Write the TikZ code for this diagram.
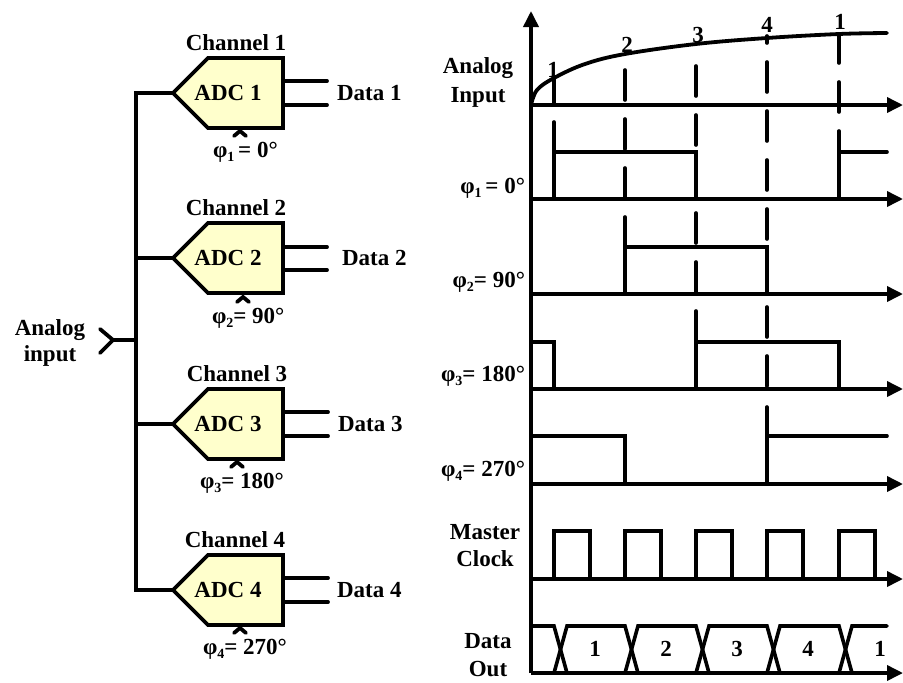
\documentclass[tikz,border=0pt]{standalone}
\usepackage{fontspec}
\setmainfont{Liberation Serif}
\usepackage{tikz}
\usetikzlibrary{shapes.symbols, arrows.meta, positioning, calc}
\definecolor{adcfill}{HTML}{FFFFCC}
\newcommand{\phasesub}[1]{\raisebox{-4pt}{\fontsize{14}{14}\selectfont #1}}
\tikzset{
  adc/.style    = {signal, signal to=west, signal pointer angle=90, draw=black,
                   line width=3.8pt, fill=adcfill, minimum width=110pt,
                   minimum height=70pt, inner sep=0pt, outer sep=0pt, line join=miter},
  lbl/.style    = {inner sep=0pt, outer sep=0pt, align=center,
                   font=\fontsize{23}{27}\selectfont\bfseries},
  wire/.style   = {line width=3.8pt, line cap=round, line join=miter},
  wave/.style   = {line width=3.6pt, line cap=round, line join=miter},
  dashline/.style = {line width=3.6pt, line cap=round, dash pattern=on 30pt off 19pt},
  axis/.style   = {line width=3.6pt, -{Triangle[length=16pt,width=15pt]}},
}
\begin{document}
\begin{tikzpicture}[x=1pt, y=-1pt]
  \useasboundingbox (0,0) rectangle (903,683);

  % converters
  \node[adc, anchor=east] (adc1) at (283,93) {};
  \node[adc, anchor=east] (adc2) at (283,258) {};
  \node[adc, anchor=east] (adc3) at (283,424) {};
  \node[adc, anchor=east] (adc4) at (283,590) {};
  \node[lbl] (name1) at ($(adc1.west)!0.5!(adc1.east)$) {ADC 1};
  \node[lbl] (name2) at ($(adc2.west)!0.5!(adc2.east)$) {ADC 2};
  \node[lbl] (name3) at ($(adc3.west)!0.5!(adc3.east)$) {ADC 3};
  \node[lbl] (name4) at ($(adc4.west)!0.5!(adc4.east)$) {ADC 4};

  \node[lbl, above=35pt of name1, xshift=8pt] (chan1) {Channel 1};
  \node[lbl, above=35pt of name2, xshift=8pt] (chan2) {Channel 2};
  \node[lbl, above=35pt of name3, xshift=9pt] (chan3) {Channel 3};
  \node[lbl, above=35pt of name4, xshift=7pt] (chan4) {Channel 4};

  \node[lbl, right=54pt of adc1] (data1) {Data 1};
  \node[lbl, right=59pt of adc2] (data2) {Data 2};
  \node[lbl, right=55pt of adc3] (data3) {Data 3};
  \node[lbl, right=54pt of adc4] (data4) {Data 4};

  \node[lbl, anchor=base west] (phase1) at (213,157) {φ\phasesub{1}\,= 0°};
  \node[lbl, anchor=base west] (phase2) at (212,323) {φ\phasesub{2}= 90°};
  \node[lbl, anchor=base west] (phase3) at (200,488) {φ\phasesub{3}= 180°};
  \node[lbl, anchor=base west] (phase4) at (203,654) {φ\phasesub{4}= 270°};

  \node[lbl] (analog) at (50,343) {Analog\\[-1pt]input};

  % input bus
  \coordinate (bustop) at (136,93);
  \coordinate (busbot) at (136,590);
  \coordinate (jack) at (113,340);
  \draw[wire] (adc1.west) -- (bustop) -- (busbot) -- (adc4.west);
  \draw[wire] (adc2.west) -- (adc2.west -| bustop);
  \draw[wire] (adc3.west) -- (adc3.west -| bustop);
  \draw[wire] (jack) -- (jack -| bustop);
  \draw[wire] ($(jack)+(-13,-11)$) -- (jack) -- ($(jack)+(-13,13)$);

  % outputs
  \coordinate (out1a) at (327,81);
  \coordinate (out1b) at (327,105);
  \coordinate (out2a) at (327,247);
  \coordinate (out2b) at (327,270);
  \coordinate (out3a) at (328,412);
  \coordinate (out3b) at (328,436);
  \coordinate (out4a) at (328,578);
  \coordinate (out4b) at (328,602);
  \foreach \n/\o in {1/out1a,1/out1b,2/out2a,2/out2b,3/out3a,3/out3b,4/out4a,4/out4b}
    \draw[wire] (\o -| adc\n.east) -- (\o);

  % clock inputs
  \coordinate (clk1) at (240,131);
  \coordinate (clk2) at (243,297);
  \coordinate (clk3) at (237,462);
  \coordinate (clk4) at (240,628);
  \foreach \c in {clk1,clk2,clk3,clk4}
    \draw[wire] ($(\c)+(-6,5)$) -- (\c) -- ($(\c)+(6,5)$);

  % axes
  \draw[axis] (531,673) -- (531,11);
  \foreach \y in {105,199,294,389,484,579,673}
    \draw[axis] (531,\y) -- (903,\y);

  % analog input and sampling instants
  \draw[wire] plot[smooth, tension=0.6] coordinates {(531,105) (537,90) (554,78) (585,64) (625,54)
    (696,44) (767,38) (839,34) (887,33)};
  \draw[wave] (554,78) -- (554,105);
  \draw[dashline] (625,70) -- (625,199);
  \draw[dashline] (696,66) -- (696,342);
  \draw[dashline, dash phase=23pt] (767,36) -- (767,389);
  \draw[dashline, dash phase=2pt] (839,35) -- (839,132);

  \node[lbl] (tick1) at (553,70) {1};
  \node[lbl] (tick2) at (627,45) {2};
  \node[lbl] (tick3) at (698,35) {3};
  \node[lbl] (tick4) at (767,25) {4};
  \node[lbl] (tick5) at (840,22) {1};

  % phase clocks
  \draw[wave] (554,122) -- (554,199);
  \draw[wave] (554,152) -- (696,152) -- (696,199);
  \draw[wave] (839,132) -- (839,199);
  \draw[wave] (839,152) -- (887,152);
  \draw[wave] (625,217) -- (625,294);
  \draw[wave] (625,247) -- (767,247) -- (767,294);
  \draw[wave] (531,342) -- (554,342) -- (554,389);
  \draw[wave] (696,389) -- (696,342) -- (839,342) -- (839,389);
  \draw[wave] (531,436) -- (625,436) -- (625,484);
  \draw[wave] (767,407) -- (767,484);
  \draw[wave] (767,436) -- (887,436);

  % master clock
  \foreach \x in {554,625,696,767,839}
    \draw[wave] (\x,579) -- (\x,531) -- (\x+36,531) -- (\x+36,579);

  % data out
  \draw[wave] (531,626) -- (554,626) -- (567,673);
  \foreach \x/\w in {554/625,625/696,696/767,767/839}
    \draw[wave] (\x,673) -- (\x+13,626) -- (\w,626) -- (\w+13,673);
  \draw[wave] (839,673) -- (852,626) -- (887,626);

  \node[lbl] (word1) at (595,649) {1};
  \node[lbl] (word2) at (666,649) {2};
  \node[lbl] (word3) at (737,649) {3};
  \node[lbl] (word4) at (808,649) {4};
  \node[lbl] (word5) at (880,649) {1};

  % row labels
  \node[lbl] (rowin) at (478,82) {Analog\\[2pt]Input};
  \node[lbl, anchor=base east] (row1) at (525,193) {φ\phasesub{1}\,= 0°};
  \node[lbl, anchor=base east] (row2) at (525,287) {φ\phasesub{2}= 90°};
  \node[lbl, anchor=base east] (row3) at (525,381) {φ\phasesub{3}= 180°};
  \node[lbl, anchor=base east] (row4) at (525,476) {φ\phasesub{4}= 270°};
  \node[lbl] (rowclk) at (485,546) {Master\\Clock};
  \node[lbl] (rowout) at (488,655) {Data\\[1pt]Out};
\end{tikzpicture}
\end{document}
